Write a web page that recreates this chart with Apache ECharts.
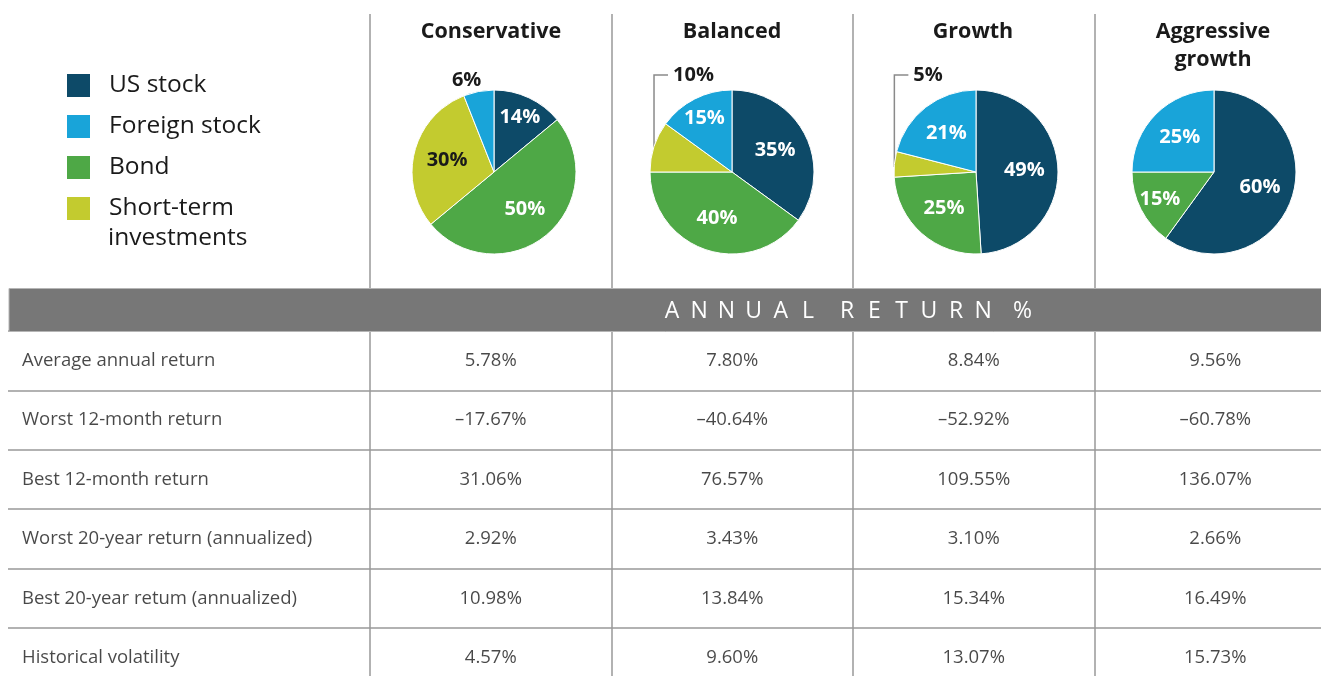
<!DOCTYPE html>
<html>
<head>
<meta charset="utf-8">
<script src="https://cdn.jsdelivr.net/npm/echarts@6/dist/echarts.min.js"></script>
<style>
  html, body { margin: 0; padding: 0; background: #fff; }
  #chart { width: 1321px; height: 676px; }
</style>
</head>
<body>
<div id="chart"></div>
<script>
// asset classes (legend order) and colours
var categories = ['US stock', 'Foreign stock', 'Bond', 'Short-term investments'];
var colors = ['#0d4a68', '#19a4d9', '#4ea846', '#c3cb2f'];

// portfolio mixes, %
var portfolios = ['Conservative', 'Balanced', 'Growth', 'Aggressive\ngrowth'];
var usStock = [14, 35, 49, 60];
var foreignStock = [6, 15, 21, 25];
var bond = [50, 40, 25, 15];
var shortTerm = [30, 10, 5, 0];

// annual return table, %
var rowLabels = ['Average annual return', 'Worst 12-month return', 'Best 12-month return',
  'Worst 20-year return (annualized)', 'Best 20-year retum (annualized)', 'Historical volatility'];
var avgReturn = [5.78, 7.80, 8.84, 9.56];
var worst12 = [-17.67, -40.64, -52.92, -60.78];
var best12 = [31.06, 76.57, 109.55, 136.07];
var worst20 = [2.92, 3.43, 3.10, 2.66];
var best20 = [10.98, 13.84, 15.34, 16.49];
var volatility = [4.57, 9.60, 13.07, 15.73];
var tableRows = [avgReturn, worst12, best12, worst20, best20, volatility];

var FONT = '"Open Sans", Lato, sans-serif';
var LINE = '#999999';
var TEXT = '#1a1a1a';
var pieX = [494, 732, 976, 1214];
var pieY = 172;
var pieR = 82;
// table cell size in px -> axis extents so the cropped last column/row stay cropped
var COL_W = 241.5, ROW_H = 59.4;

function fmtPct(v) {
  return (v < 0 ? '\u2013' + Math.abs(v).toFixed(2) : v.toFixed(2)) + '%';
}

// slices clockwise from 12 o'clock: US, Bond, Short-term, Foreign
function pieData(i) {
  var list = [[0, usStock[i]], [2, bond[i]], [3, shortTerm[i]], [1, foreignStock[i]]];
  var out = [];
  list.forEach(function (d) {
    var c = d[0], v = d[1];
    if (!v) return;
    var item = { name: categories[c], value: v, itemStyle: { color: colors[c] } };
    if (v < 12) {
      item.label = { position: 'outside', color: TEXT };
      item.labelLine = c === 3
        ? { show: true, lineStyle: { color: '#8a8a8a', width: 1.5 } }
        : { show: true, lineStyle: { opacity: 0 } };
      item.kind = c === 3 ? 'bracket' : 'plain';
    } else {
      item.label = { position: 'inside', color: c === 3 ? TEXT : '#fff' };
      item.kind = 'inside';
    }
    out.push(item);
  });
  return out;
}

var pieSeries = portfolios.map(function (p, i) {
  var data = pieData(i);
  return {
    type: 'pie',
    center: [pieX[i], pieY],
    radius: pieR,
    startAngle: 90,
    clockwise: true,
    avoidLabelOverlap: false,
    silent: true,
    itemStyle: { borderColor: '#fff', borderWidth: 1 },
    label: { show: true, formatter: '{c}%', fontFamily: FONT, fontWeight: 'bold', fontSize: 20 },
    labelLine: { length: 8, length2: 8 },
    data: data,
    labelLayout: function (params) {
      var item = data[params.dataIndex];
      var pts = params.labelLinePoints;
      if (item.kind === 'bracket' && pts) {
        var p = pts[0];
        var topY = pieY - pieR - 15;
        return {
          x: p[0] + 19, y: topY, align: 'left', verticalAlign: 'middle',
          labelLinePoints: [[p[0] + 3, p[1] + 2], [p[0], p[1] + 2], [p[0], topY], [p[0] + 14, topY]]
        };
      }
      if (item.kind === 'plain' && pts) {
        var q = pts[0];
        return { x: q[0] - 12, y: q[1] - 11, align: 'center', verticalAlign: 'middle' };
      }
      var r = params.labelRect;
      var cx = r.x + r.width / 2, cy = r.y + r.height / 2;
      var f = item.value < 20 ? 1.38 : 1.1;
      return {
        x: pieX[i] + (cx - pieX[i]) * f,
        y: pieY + (cy - pieY) * f,
        align: 'center', verticalAlign: 'middle'
      };
    }
  };
});

var tableData = [];
tableRows.forEach(function (row, r) {
  row.forEach(function (v, c) { tableData.push([c + 0.5, r + 0.5, v]); });
});
var rowLabelData = rowLabels.map(function (t, r) { return [0, r + 0.5, t]; });

// letter-spaced banner text
var bannerChars = [];
(function () {
  var x = 672;
  'ANNUAL RETURN %'.split('').forEach(function (ch) {
    if (ch === ' ') { x += 12; return; }
    bannerChars.push({
      type: 'text', silent: true, z: 11, x: x, y: 311,
      style: { text: ch, fill: '#fff', font: '400 23px ' + FONT, align: 'center', verticalAlign: 'middle' }
    });
    x += 27.2;
  });
})();

var splitLine = { show: true, showMinLine: true, showMaxLine: false, lineStyle: { color: LINE, width: 1.5 } };
var xMax = (1321 - 370) / COL_W;
var yMax = (676 - 331) / ROW_H;

var chart = echarts.init(document.getElementById('chart'));
chart.setOption({
  animation: false,
  backgroundColor: '#fff',
  title: portfolios.map(function (p, i) {
    return {
      text: p, left: [491, 732, 973, 1213][i], top: 18, textAlign: 'center', padding: 0,
      textStyle: { fontFamily: FONT, fontWeight: 'bold', fontSize: 21.5, color: TEXT, lineHeight: 28 }
    };
  }),
  legend: {
    orient: 'vertical', left: 65, top: 72, padding: 0,
    itemWidth: 25, itemHeight: 25, itemGap: 14,
    icon: 'rect', selectedMode: false,
    data: categories,
    formatter: function (name) { return name === 'Short-term investments' ? 'Short-term' : name; },
    textStyle: { fontFamily: FONT, fontSize: 24.5, color: TEXT, lineHeight: 25, padding: [0, 0, 0, 13] }
  },
  grid: [
    { left: 8, top: 331, width: 362, bottom: 0 },
    { left: 370, top: 331, right: 0, bottom: 0 },
    { left: 370, top: 14, right: 0, height: 274 }
  ],
  xAxis: [
    { type: 'value', gridIndex: 0, min: 0, max: 1, show: false },
    {
      type: 'value', gridIndex: 1, min: 0, max: xMax, interval: 1,
      axisLine: { show: false }, axisTick: { show: false }, axisLabel: { show: false }, splitLine: splitLine
    },
    {
      type: 'value', gridIndex: 2, min: 0, max: xMax, interval: 1,
      axisLine: { show: false }, axisTick: { show: false }, axisLabel: { show: false }, splitLine: splitLine
    }
  ],
  yAxis: [
    {
      type: 'value', gridIndex: 0, min: 0, max: yMax, interval: 1, inverse: true,
      axisLine: { show: false }, axisTick: { show: false }, axisLabel: { show: false }, splitLine: splitLine
    },
    {
      type: 'value', gridIndex: 1, min: 0, max: yMax, interval: 1, inverse: true,
      axisLine: { show: false }, axisTick: { show: false }, axisLabel: { show: false }, splitLine: splitLine
    },
    { type: 'value', gridIndex: 2, min: 0, max: 1, show: false }
  ],
  graphic: [
    {
      type: 'rect', silent: true, z: 10,
      shape: { x: 9, y: 288.5, width: 1320, height: 43 },
      style: { fill: '#777777', stroke: '#b5b5b5', lineWidth: 1 }
    },
    {
      type: 'text', silent: true, left: 108, top: 226,
      style: { text: 'investments', fill: TEXT, font: '400 24.5px ' + FONT }
    }
  ].concat(bannerChars),
  series: pieSeries.concat([
    {
      type: 'scatter', xAxisIndex: 0, yAxisIndex: 0,
      symbolSize: 0, silent: true,
      data: rowLabelData,
      label: {
        show: true, position: 'right', distance: 14, fontFamily: FONT, fontSize: 18.5, color: TEXT,
        formatter: function (p) { return p.value[2]; }
      }
    },
    {
      type: 'scatter', xAxisIndex: 1, yAxisIndex: 1,
      symbolSize: 0, silent: true,
      data: tableData,
      label: {
        show: true, position: 'inside', fontFamily: FONT, fontSize: 18.5, color: TEXT,
        formatter: function (p) { return fmtPct(p.value[2]); }
      }
    }
  ])
});
</script>
</body>
</html>
